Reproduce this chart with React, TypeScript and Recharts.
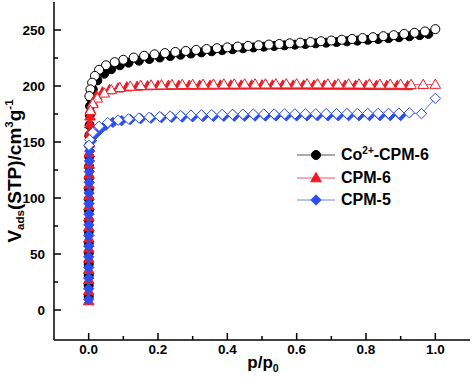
import { ComposedChart, Line, XAxis, YAxis, Legend } from 'recharts';

const FONT = '"Liberation Sans", Arial, sans-serif';

// Co2+-CPM-6, adsorption (filled) and desorption (open)
const coAdsP = [0.0001, 0.0001, 0.0002, 0.0002, 0.0003, 0.0003, 0.0004, 0.0005, 0.0006, 0.0007, 0.0008, 0.001, 0.0012, 0.0015, 0.0018, 0.0022, 0.0027, 0.0033, 0.004, 0.006, 0.012, 0.025, 0.045, 0.065, 0.09, 0.115, 0.145, 0.175, 0.205, 0.235, 0.265, 0.295, 0.325, 0.355, 0.385, 0.415, 0.445, 0.475, 0.505, 0.535, 0.565, 0.595, 0.625, 0.655, 0.685, 0.715, 0.745, 0.775, 0.805, 0.835, 0.865, 0.895, 0.925, 0.955, 0.98];
const coAdsV = [12, 22, 31, 41, 51, 60, 70, 80, 89, 99, 108, 118, 128, 137, 147, 156, 165, 174, 182, 189, 197, 205, 211, 215, 218.5, 220.8, 222.6, 224.1, 225.4, 226.7, 227.9, 229, 230, 231, 232, 232.8, 233.7, 234.4, 235.1, 235.7, 236.3, 236.9, 237.5, 238.1, 238.7, 239.3, 239.9, 240.5, 241.2, 241.9, 242.7, 243.5, 244.4, 245.4, 246.5];
const coDesP = [1.0, 0.97, 0.94, 0.91, 0.88, 0.85, 0.82, 0.79, 0.76, 0.73, 0.7, 0.67, 0.64, 0.61, 0.58, 0.55, 0.52, 0.49, 0.46, 0.43, 0.4, 0.37, 0.34, 0.31, 0.28, 0.25, 0.22, 0.19, 0.16, 0.13, 0.1, 0.075, 0.05, 0.03, 0.018, 0.01, 0.005, 0.002];
const coDesV = [250.8, 248.7, 247.5, 246.5, 245.4, 244.5, 243.6, 242.8, 242, 241.3, 240.6, 240, 239.3, 238.7, 238.1, 237.5, 237, 236.4, 235.8, 235.2, 234.5, 233.8, 233, 232.2, 231.3, 230.4, 229.4, 228.3, 227, 225.4, 223.4, 221.3, 218.5, 214.5, 209, 203, 197, 191];

// CPM-6
const cpm6AdsP = [0.0001, 0.0001, 0.0002, 0.0002, 0.0003, 0.0003, 0.0004, 0.0005, 0.0006, 0.0007, 0.0008, 0.001, 0.0012, 0.0015, 0.0018, 0.0022, 0.0027, 0.0033, 0.004, 0.005, 0.012, 0.023, 0.04, 0.06, 0.085, 0.11, 0.14, 0.17, 0.2, 0.23, 0.26, 0.29, 0.32, 0.35, 0.38, 0.41, 0.44, 0.47, 0.5, 0.53, 0.56, 0.59, 0.62, 0.65, 0.68, 0.71, 0.74, 0.77, 0.8, 0.83, 0.86, 0.89, 0.92];
const cpm6AdsV = [8, 17, 27, 36, 46, 55, 64, 74, 83, 93, 102, 112, 121, 130, 140, 149, 158, 166, 173, 179, 185, 191, 194.5, 196.5, 198, 199, 199.6, 200, 200.2, 200.3, 200.4, 200.4, 200.5, 200.5, 200.6, 200.6, 200.6, 200.7, 200.7, 200.7, 200.6, 200.6, 200.6, 200.5, 200.5, 200.5, 200.4, 200.4, 200.3, 200.3, 200.2, 200.2, 200.1];
const cpm6DesP = [1.0, 0.965, 0.93, 0.9, 0.87, 0.84, 0.81, 0.78, 0.75, 0.72, 0.69, 0.66, 0.63, 0.6, 0.57, 0.54, 0.51, 0.48, 0.45, 0.42, 0.39, 0.36, 0.33, 0.3, 0.27, 0.24, 0.21, 0.18, 0.15, 0.12, 0.09, 0.065, 0.045, 0.025, 0.012, 0.005];
const cpm6DesV = [201.3, 201.2, 201.2, 201.3, 201.4, 201.4, 201.5, 201.5, 201.6, 201.6, 201.6, 201.7, 201.7, 201.7, 201.7, 201.7, 201.6, 201.6, 201.6, 201.5, 201.5, 201.4, 201.3, 201.2, 201.1, 201, 200.8, 200.6, 200.3, 199.6, 198.4, 196.5, 193.5, 189, 184, 178];

// CPM-5
const cpm5AdsP = [0.0001, 0.0001, 0.0002, 0.0002, 0.0003, 0.0004, 0.0005, 0.0006, 0.0008, 0.001, 0.0012, 0.0015, 0.0019, 0.0024, 0.003, 0.008, 0.018, 0.033, 0.05, 0.07, 0.095, 0.12, 0.15, 0.18, 0.21, 0.24, 0.27, 0.3, 0.33, 0.36, 0.39, 0.42, 0.45, 0.48, 0.51, 0.54, 0.57, 0.6, 0.63, 0.66, 0.69, 0.72, 0.75, 0.78, 0.81, 0.84, 0.87, 0.9];
const cpm5AdsV = [9.5, 19, 28.5, 38, 47.5, 57, 66.5, 76, 85.5, 95, 104.5, 114, 123.5, 133, 142, 151, 156.5, 161, 165, 167.5, 169, 170, 170.8, 171.3, 171.7, 172, 172.3, 172.5, 172.7, 172.8, 173, 173, 173.1, 173.2, 173.2, 173.3, 173.3, 173.3, 173.4, 173.4, 173.4, 173.4, 173.5, 173.5, 173.5, 173.5, 173.6, 173.6];
const cpm5DesP = [1.0, 0.96, 0.925, 0.895, 0.865, 0.835, 0.805, 0.775, 0.745, 0.715, 0.685, 0.655, 0.625, 0.595, 0.565, 0.535, 0.505, 0.475, 0.445, 0.415, 0.385, 0.355, 0.325, 0.295, 0.265, 0.235, 0.205, 0.175, 0.145, 0.115, 0.085, 0.055, 0.03, 0.012, 0.003, 0.001];
const cpm5DesV = [189, 175.3, 176, 175.8, 175.6, 175.5, 175.5, 175.4, 175.4, 175.3, 175.3, 175.2, 175.2, 175.1, 175.1, 175, 175, 174.9, 174.8, 174.7, 174.6, 174.4, 174.2, 174, 173.6, 173.2, 172.7, 172.1, 171.4, 170.6, 169.5, 167.3, 164, 158.5, 152, 147];

const xTicks = [0, 0.1, 0.2, 0.3, 0.4, 0.5, 0.6, 0.7, 0.8, 0.9, 1.0];
const xMajor = [0, 0.2, 0.4, 0.6, 0.8, 1.0];
const yTicks = [0, 25, 50, 75, 100, 125, 150, 175, 200, 225, 250];
const yMajor = [0, 50, 100, 150, 200, 250];

const toPoints = (ps: number[], vs: number[]) => ps.map((p, i) => ({ p, v: vs[i] }));

type Shape = 'circle' | 'triangle' | 'diamond';

function marker(shape: Shape, cx: number, cy: number, color: string, filled: boolean, key?: any) {
  const fill = filled ? color : '#fff';
  if (shape === 'circle') {
    return <circle key={key} cx={cx} cy={cy} r={4.5} fill={fill} stroke={color} strokeWidth={1} />;
  }
  if (shape === 'triangle') {
    const pts = `${cx},${cy - 5.5} ${cx - 5.3},${cy + 3.8} ${cx + 5.3},${cy + 3.8}`;
    return <polygon key={key} points={pts} fill={fill} stroke={color} strokeWidth={1} />;
  }
  const pts = `${cx},${cy - 5.2} ${cx + 5.2},${cy} ${cx},${cy + 5.2} ${cx - 5.2},${cy}`;
  return <polygon key={key} points={pts} fill={fill} stroke={color} strokeWidth={1} />;
}

const makeDot = (shape: Shape, color: string, filled: boolean) => (props: any) => {
  const { cx, cy, index } = props;
  if (cx == null || cy == null) return <g key={index} />;
  return marker(shape, cx, cy, color, filled, index);
};

const series = [
  { name: 'co-ads', data: toPoints(coAdsP, coAdsV), shape: 'circle' as Shape, color: '#000000', line: '#555555', filled: true },
  { name: 'co-des', data: toPoints(coDesP, coDesV), shape: 'circle' as Shape, color: '#000000', line: '#555555', filled: false },
  { name: 'cpm6-ads', data: toPoints(cpm6AdsP, cpm6AdsV), shape: 'triangle' as Shape, color: '#f01a24', line: '#f2506a', filled: true },
  { name: 'cpm6-des', data: toPoints(cpm6DesP, cpm6DesV), shape: 'triangle' as Shape, color: '#f01a24', line: '#f2506a', filled: false },
  { name: 'cpm5-ads', data: toPoints(cpm5AdsP, cpm5AdsV), shape: 'diamond' as Shape, color: '#2b4df2', line: '#6f82f0', filled: true },
  { name: 'cpm5-des', data: toPoints(cpm5DesP, cpm5DesV), shape: 'diamond' as Shape, color: '#2b4df2', line: '#6f82f0', filled: false },
];

const legendItems = [
  { label: 'Co', sup: '2+', rest: '-CPM-6', shape: 'circle' as Shape, color: '#000000', line: '#555555' },
  { label: 'CPM-6', sup: '', rest: '', shape: 'triangle' as Shape, color: '#f01a24', line: '#f2506a' },
  { label: 'CPM-5', sup: '', rest: '', shape: 'diamond' as Shape, color: '#2b4df2', line: '#6f82f0' },
];

const XTick = (props: any) => {
  const { x, y, payload } = props;
  const major = xMajor.includes(payload.value);
  return (
    <g>
      <line x1={x} x2={x} y1={y} y2={y - (major ? 7 : 4)} stroke="#000" strokeWidth={1.5} />
      {major && (
        <text x={x} y={y + 14} textAnchor="middle" fontFamily={FONT} fontWeight="bold" fontSize={13.5} fill="#000">
          {payload.value.toFixed(1)}
        </text>
      )}
    </g>
  );
};

const YTick = (props: any) => {
  const { x, y, payload } = props;
  const major = yMajor.includes(payload.value);
  return (
    <g>
      <line x1={x} x2={x + (major ? 7 : 4)} y1={y} y2={y} stroke="#000" strokeWidth={1.5} />
      {major && (
        <text x={x - 9} y={y + 5} textAnchor="end" fontFamily={FONT} fontWeight="bold" fontSize={13.5} fill="#000">
          {payload.value}
        </text>
      )}
    </g>
  );
};

const YTitle = () => (
  <text transform="rotate(-90)" x={-171} y={21} textAnchor="middle" fontFamily={FONT} fontWeight="bold" fontSize={19} fill="#000">
    V<tspan fontSize={11.5} dy={3}>ads</tspan>
    <tspan dy={-3}>(STP)/cm</tspan>
    <tspan fontSize={11.5} dy={-8}>3</tspan>
    <tspan dy={8}>g</tspan>
    <tspan fontSize={11.5} dy={-8}>-1</tspan>
  </text>
);

const XTitle = () => (
  <text x={263} y={368} textAnchor="middle" fontFamily={FONT} fontWeight="bold" fontSize={17} fill="#000">
    p/p<tspan fontSize={10.5} dy={4}>0</tspan>
  </text>
);

const LegendBox = () => (
  <div style={{ fontFamily: FONT, fontWeight: 'bold', fontSize: 16, color: '#000' }}>
    {legendItems.map((it) => (
      <div key={it.label} style={{ display: 'flex', alignItems: 'center', height: 22.5 }}>
        <svg width={44} height={14} style={{ display: 'block' }}>
          <line x1={0} x2={38} y1={7} y2={7} stroke={it.line} strokeWidth={1} />
          {marker(it.shape, 19, 7, it.color, true)}
        </svg>
        <span style={{ lineHeight: '16px' }}>
          {it.label}
          {it.sup && <sup style={{ fontSize: 10, verticalAlign: 'top', position: 'relative', top: -4 }}>{it.sup}</sup>}
          {it.rest}
        </span>
      </div>
    ))}
  </div>
);

export default function App() {
  return (
    <div style={{ position: 'absolute', left: 0, top: 0, width: 474, height: 377, background: '#fff' }}>
      <ComposedChart width={474} height={377} margin={{ top: 2, right: 4, left: 0, bottom: 0 }}>
        <XAxis
          xAxisId="main"
          dataKey="p"
          type="number"
          domain={[-0.1, 1.1]}
          ticks={xTicks}
          interval={0}
          height={37}
          tickSize={0}
          tickMargin={0}
          tickLine={false}
          tick={<XTick />}
          axisLine={{ stroke: '#000', strokeWidth: 1.5 }}
          label={<XTitle />}
        />
        <XAxis xAxisId="top" orientation="top" type="number" domain={[-0.1, 1.1]} height={0} tick={false} tickLine={false} axisLine={{ stroke: '#000', strokeWidth: 1.5 }} />
        <YAxis
          yAxisId="main"
          type="number"
          domain={[-26.8, 275]}
          ticks={yTicks}
          interval={0}
          width={54}
          tickSize={0}
          tickMargin={0}
          tickLine={false}
          tick={<YTick />}
          axisLine={{ stroke: '#000', strokeWidth: 1.5 }}
          label={<YTitle />}
        />
        <YAxis yAxisId="right" orientation="right" type="number" domain={[-26.8, 275]} width={0} tick={false} tickLine={false} axisLine={{ stroke: '#000', strokeWidth: 1.5 }} />
        {series.map((s) => (
          <Line
            key={s.name}
            xAxisId="main"
            yAxisId="main"
            data={s.data}
            dataKey="v"
            type="linear"
            stroke={s.line}
            strokeWidth={1}
            dot={makeDot(s.shape, s.color, s.filled)}
            activeDot={false}
            legendType="none"
            isAnimationActive={false}
          />
        ))}
        <Legend
          layout="vertical"
          align="center"
          verticalAlign="middle"
          content={<LegendBox />}
          wrapperStyle={{ left: 297, top: 144, width: 'auto', height: 'auto' }}
        />
      </ComposedChart>
    </div>
  );
}
